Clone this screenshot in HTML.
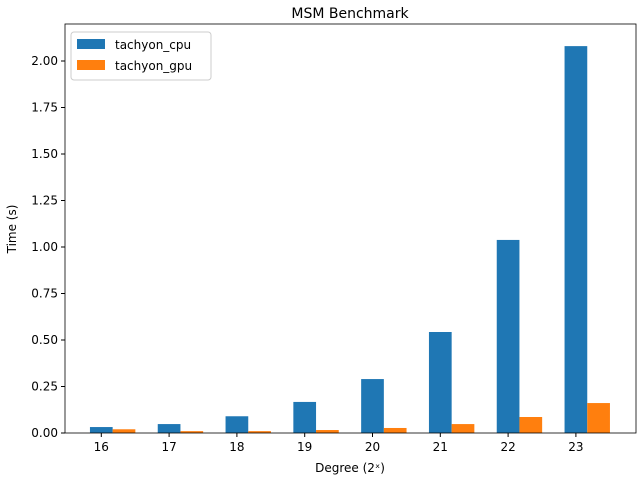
<!DOCTYPE html>
<html><head><meta charset="utf-8"><style>
body{margin:0;background:#fff;font-family:"DejaVu Sans","Liberation Sans",sans-serif;}
svg text{font-family:"DejaVu Sans","Liberation Sans",sans-serif;}
</style></head><body>
<svg id="chart" width="640" height="480">
<text x="350" y="18" text-anchor="middle" font-size="14">MSM Benchmark</text>
<g id="bars"></g><g id="axes"></g>
<text x="350" y="472" text-anchor="middle" font-size="12">Degree (2ˣ)</text>
<text transform="translate(16,229) rotate(-90)" text-anchor="middle" font-size="12">Time (s)</text>
<g>
<rect x="71" y="32" width="140" height="48" fill="#fff" stroke="#ccc" rx="3"></rect>
<rect x="77" y="39" width="28" height="10" fill="#1f77b4"></rect>
<text x="115" y="49" font-size="12">tachyon_cpu</text>
<rect x="77" y="60" width="28" height="10" fill="#ff7f0e"></rect>
<text x="115" y="70" font-size="12">tachyon_gpu</text>
</g>
</svg>
<script>
const categories=[16,17,18,19,20,21,22,23];
const cpuValues=[0.032,0.048,0.09,0.167,0.29,0.543,1.038,2.08];
const gpuValues=[0.02,0.01,0.01,0.016,0.027,0.048,0.086,0.161];
const yTicks=[0,0.25,0.5,0.75,1.0,1.25,1.5,1.75,2.0];
const yTickLabels=["0.00","0.25","0.50","0.75","1.00","1.25","1.50","1.75","2.00"];
const L=65,R=636,T=24,B=433;
const ns="http://www.w3.org/2000/svg";
function y(v){return B-v*186;}
function x(i){return 101.3+i*67.8;}
const bw=22.7;
const bars=document.getElementById('bars'),axes=document.getElementById('axes');
function mk(tag,attrs,parent){const e=document.createElementNS(ns,tag);for(const k in attrs)e.setAttribute(k,attrs[k]);parent.appendChild(e);return e;}
categories.forEach((c,i)=>{
 let r=mk('rect',{x:x(i)-bw/2,y:y(cpuValues[i]),width:bw,height:B-y(cpuValues[i]),fill:'#1f77b4'},bars);
 
 
 let g=mk('rect',{x:x(i)+bw/2,y:y(gpuValues[i]),width:bw,height:B-y(gpuValues[i]),fill:'#ff7f0e'},bars);
 
 
 mk('line',{x1:x(i),x2:x(i),y1:B,y2:B+4,stroke:'#000'},axes);
 let t=mk('text',{x:x(i),y:B+18,'text-anchor':'middle','font-size':12},axes);
 t.textContent=c;
 
 
});
yTicks.forEach((v,i)=>{
 mk('line',{x1:L-4,x2:L,y1:y(v),y2:y(v),stroke:'#000'},axes);
 let t=mk('text',{x:L-7,y:y(v)+4,'text-anchor':'end','font-size':12},axes);
 t.textContent=yTickLabels[i];
 
 
});
mk('rect',{x:L,y:T,width:R-L,height:B-T,fill:'none',stroke:'#000','stroke-width':0.8},axes);
</script>
</body></html>
